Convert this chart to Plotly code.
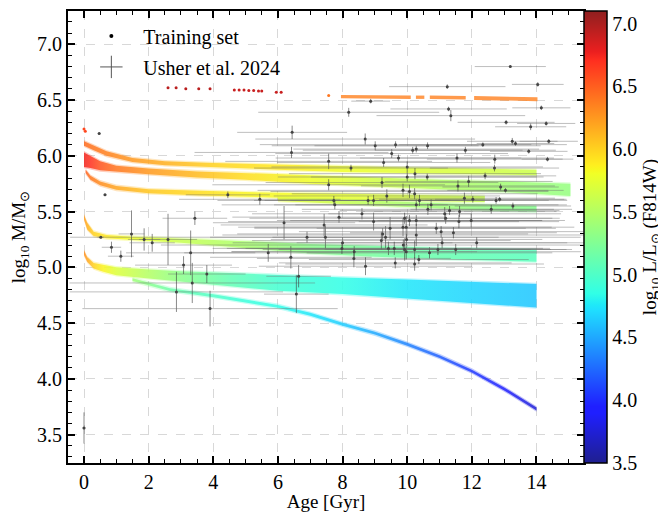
import plotly.graph_objects as go

# ---------------- data ----------------
# Training-set tracks (bands): age [Gyr], upper/lower log10 M, log10 L
A_age = [0.0, 0.3, 0.7, 1.5, 2.5, 4.0, 6.0, 8.0, 10.0, 12.0, 14.0]
A_upper = [6.13, 6.09, 6.04, 5.98, 5.95, 5.935, 5.92, 5.905, 5.895, 5.885, 5.875]
A_lower = [6.09, 6.05, 6.00, 5.945, 5.915, 5.895, 5.875, 5.855, 5.845, 5.835, 5.825]
A_logL = [6.45, 6.4, 6.35, 6.25, 6.15, 6.0, 5.9, 5.8, 5.72, 5.66, 5.62]

B_age = [0.0, 0.2, 0.5, 1.0, 2.0, 3.5, 5.0, 7.0, 9.0, 11.0, 13.0, 15.05]
B_upper = [6.03, 6.0, 5.95, 5.91, 5.885, 5.86, 5.845, 5.82, 5.80, 5.785, 5.77, 5.75]
B_lower = [5.90, 5.89, 5.87, 5.855, 5.835, 5.805, 5.785, 5.75, 5.725, 5.70, 5.675, 5.64]
B_logL = [6.75, 6.7, 6.55, 6.4, 6.25, 6.1, 5.95, 5.8, 5.65, 5.5, 5.42, 5.35]

C_age = [0.05, 0.2, 0.5, 1.0, 2.0, 3.6, 5.0, 7.0, 9.0, 11.0, 12.4]
C_upper = [5.875, 5.82, 5.77, 5.73, 5.70, 5.685, 5.675, 5.665, 5.655, 5.645, 5.64]
C_lower = [5.845, 5.785, 5.735, 5.695, 5.665, 5.645, 5.63, 5.615, 5.60, 5.59, 5.585]
C_logL = [6.5, 6.4, 6.3, 6.2, 6.05, 5.95, 5.85, 5.8, 5.72, 5.65, 5.6]

C2_age = [6.0, 8.0, 10.0, 12.0, 14.0]
C2_upper = [5.63, 5.605, 5.585, 5.565, 5.55]
C2_lower = [5.595, 5.565, 5.54, 5.515, 5.50]
C2_logL = [5.75, 5.6, 5.45, 5.35, 5.28]

D_age = [0.0, 0.1, 0.3, 0.7, 1.5, 3.0, 5.0, 7.0, 9.0, 11.0, 14.0]
D_upper = [5.47, 5.40, 5.32, 5.29, 5.275, 5.26, 5.235, 5.21, 5.19, 5.175, 5.16]
D_lower = [5.43, 5.34, 5.28, 5.26, 5.245, 5.22, 5.175, 5.125, 5.095, 5.075, 5.05]
D_logL = [6.25, 6.15, 6.0, 5.9, 5.8, 5.6, 5.45, 5.3, 5.2, 5.12, 5.05]

E_age = [0.0, 0.1, 0.3, 0.6, 1.0, 2.0, 3.0, 4.5, 6.0, 8.0, 10.0, 12.0, 14.0]
E_upper = [5.15, 5.09, 5.04, 5.02, 5.00, 4.98, 4.965, 4.95, 4.93, 4.91, 4.89, 4.87, 4.85]
E_lower = [5.11, 5.05, 4.99, 4.96, 4.93, 4.90, 4.87, 4.83, 4.79, 4.76, 4.72, 4.68, 4.64]
E_logL = [6.3, 6.2, 6.0, 5.85, 5.7, 5.5, 5.3, 5.1, 4.95, 4.85, 4.75, 4.68, 4.62]

F_age = [1.5, 2.66, 4.0, 5.0, 6.0, 7.0, 8.0, 9.0, 10.0, 11.0, 12.0, 13.0, 14.0]
F_upper = [4.903, 4.813, 4.758, 4.713, 4.663, 4.593, 4.503, 4.423, 4.323, 4.213, 4.083, 3.923, 3.743]
F_lower = [4.877, 4.787, 4.732, 4.687, 4.637, 4.567, 4.477, 4.397, 4.297, 4.187, 4.057, 3.897, 3.717]
F_logL = [5.4, 5.15, 5.0, 4.9, 4.85, 4.75, 4.65, 4.5, 4.35, 4.2, 4.05, 3.9, 3.75]

# top orange track, broken into pieces
O_age = [[7.95, 10.11], [10.27, 10.53], [10.7, 11.81], [12.07, 14.03]]
O_upper = [[6.545, 6.54], [6.54, 6.54], [6.54, 6.535], [6.535, 6.525]]
O_lower = [[6.515, 6.51], [6.51, 6.51], [6.51, 6.505], [6.50, 6.49]]
O_logL = [6.35, 6.35, 6.35, 6.35]

# sparse training points
T_age = [0.0, 0.04, 2.6, 2.85, 3.15, 3.55, 3.9, 4.65, 4.8, 4.95, 5.1, 5.25, 5.4, 5.5, 5.95, 6.1, 7.57]
T_logM = [6.24, 6.22, 6.61, 6.61, 6.60, 6.60, 6.60, 6.59, 6.59, 6.59, 6.585, 6.585, 6.58, 6.58, 6.57, 6.57, 6.54]
T_logL = [6.6, 6.6, 6.95, 6.95, 6.95, 6.95, 6.95, 6.9, 6.9, 6.9, 6.9, 6.9, 6.9, 6.9, 6.9, 6.9, 6.4]

# Usher et al. 2024 clusters
U_age = [0.0, 0.47, 0.65, 0.52, 0.85, 1.14, 1.47, 1.86, 2.11, 2.6, 3.43, 3.3, 3.08, 3.35, 3.8, 2.86, 3.9,
         4.45, 5.44, 6.44, 6.42, 7.57, 7.57, 6.64, 6.57, 6.4, 5.7, 6.19, 6.9, 7.43, 7.47, 7.76, 7.89, 8.0,
         8.35, 8.71, 8.87, 8.19, 8.7, 9.01, 9.64, 9.52, 9.73, 9.27, 8.26, 10.0, 9.22, 9.87, 9.37, 8.79,
         8.96, 8.6, 8.96, 9.2, 9.33, 9.42, 9.47, 9.63, 9.87, 9.92, 9.88, 9.98, 10.07, 10.23, 10.28, 10.38,
         10.64, 10.74, 11.16, 11.31, 11.62, 11.77, 12.03, 12.75, 12.6, 13.27, 9.92, 10.07, 10.28, 9.97,
         10.9, 11.05, 11.19, 11.6, 11.98, 10.28, 11.43, 11.08, 12.15, 11.5, 9.97, 10.23, 10.69, 10.95,
         10.23, 10.36, 13.19, 11.24, 14.04, 14.15, 11.35, 11.28, 13.06, 13.82, 14.3, 13.25, 13.35, 14.38,
         13.76, 14.34, 12.34, 11.8, 11.54, 12.71, 10.63, 10.17, 10.28, 12.7, 12.41, 11.9, 11.57, 12.89,
         13.04, 10.62, 10.0, 10.24, 12.86, 7.73, 9.24, 8.36, 9.6, 7.98]
U_age_err = [0.05, 0.05, 0.05, 0.1, 0.3, 0.4, 0.4, 0.5, 0.7, 0.9, 1.0, 2.0, 1.5, 3.8, 1.2, 3.3, 3.95,
             1.3, 2.5, 1.7, 3.0, 3.2, 3.6, 1.0, 1.0, 2.5, 2.6, 2.2, 3.0, 3.2, 7.9, 3.5, 3.3, 3.4,
             3.0, 3.3, 0.6, 2.8, 3.4, 3.2, 4.2, 3.6, 3.8, 3.3, 3.0, 4.0, 3.6, 4.5, 3.5, 3.2,
             3.7, 3.4, 4.5, 4.0, 3.5, 5.0, 4.2, 3.6, 4.6, 3.9, 7.5, 4.2, 4.3, 3.8, 4.4, 4.0,
             3.9, 4.2, 3.6, 3.4, 3.0, 2.8, 2.9, 2.2, 2.5, 1.8, 4.8, 4.1, 3.9, 5.2,
             3.7, 4.4, 3.3, 3.1, 2.9, 6.0, 3.2, 4.5, 2.8, 3.6, 5.4, 4.7, 3.8, 3.5,
             4.0, 3.4, 1.1, 1.8, 0.8, 0.9, 2.3, 1.8, 1.5, 1.1, 0.9, 1.4, 1.2, 0.9,
             1.2, 0.8, 2.6, 2.8, 3.0, 2.1, 3.5, 3.4, 3.8, 2.0, 2.2, 2.6, 3.0, 1.8,
             1.8, 3.6, 4.2, 3.9, 2.0, 3.6, 4.5, 3.8, 4.6, 4.0]
U_logM = [3.56, 6.20, 5.65, 5.27, 5.18, 5.10, 5.30, 5.25, 5.22, 5.25, 5.44, 5.13, 5.02, 4.86, 4.94, 4.78, 4.63,
          5.65, 5.61, 6.21, 6.03, 5.95, 5.74, 4.92, 4.76, 5.09, 5.13, 5.40, 5.27, 5.38, 5.27, 5.56, 5.45, 5.22,
          5.08, 5.01, 6.49, 6.39, 6.15, 6.09, 6.10, 6.02, 5.98, 5.94, 5.89, 5.81, 5.76, 5.69, 5.64, 5.60,
          5.60, 5.48, 5.41, 5.24, 5.27, 5.17, 5.35, 5.04, 5.36, 5.16, 5.20, 5.25, 5.68, 5.66, 5.56, 5.60,
          5.52, 5.56, 5.48, 5.51, 5.50, 5.62, 5.61, 5.60, 5.52, 5.55, 5.44, 5.42, 5.42, 5.36,
          5.35, 5.32, 5.44, 5.41, 5.42, 5.29, 5.31, 5.22, 5.22, 5.16, 5.14, 5.16, 5.13, 5.16,
          5.03, 5.07, 6.80, 6.62, 6.64, 6.43, 6.36, 6.42, 6.30, 6.26, 6.29, 6.13, 6.11, 6.13,
          6.04, 5.97, 6.10, 6.05, 5.98, 5.97, 6.09, 6.05, 6.06, 5.89, 5.82, 5.77, 5.73, 5.72,
          5.69, 5.81, 5.90, 5.84, 5.61, 5.60, 5.30, 5.14, 5.17, 5.17]
U_logM_err = [0.14, 0.01, 0.01, 0.01, 0.05, 0.05, 0.21, 0.10, 0.08, 0.23, 0.06, 0.20, 0.08, 0.18, 0.08, 0.18, 0.16,
              0.03, 0.05, 0.06, 0.05, 0.07, 0.05, 0.10, 0.17, 0.10, 0.08, 0.15, 0.05, 0.10, 0.10, 0.04, 0.05, 0.05,
              0.08, 0.08, 0.02, 0.04, 0.05, 0.04, 0.03, 0.04, 0.03, 0.04, 0.03, 0.04, 0.05, 0.06, 0.06, 0.04,
              0.05, 0.05, 0.08, 0.08, 0.10, 0.06, 0.10, 0.05, 0.08, 0.10, 0.05, 0.05, 0.06, 0.05, 0.05, 0.05,
              0.05, 0.05, 0.06, 0.04, 0.05, 0.05, 0.03, 0.03, 0.04, 0.03, 0.05, 0.05, 0.05, 0.10,
              0.05, 0.05, 0.05, 0.06, 0.06, 0.10, 0.05, 0.05, 0.05, 0.05, 0.07, 0.08, 0.05, 0.05,
              0.06, 0.04, 0.01, 0.02, 0.02, 0.02, 0.05, 0.02, 0.02, 0.03, 0.02, 0.03, 0.02, 0.02,
              0.02, 0.02, 0.02, 0.03, 0.04, 0.04, 0.03, 0.03, 0.03, 0.03, 0.03, 0.05, 0.05, 0.03,
              0.02, 0.03, 0.05, 0.05, 0.02, 0.04, 0.05, 0.05, 0.06, 0.05]

# colour axis
L_MIN, L_MAX = 3.5, 7.1
cbar_ticks = [3.5, 4.0, 4.5, 5.0, 5.5, 6.0, 6.5, 7.0]

# ---------------- colour map (matplotlib-like jet, slightly washed) ----------------
def _interp(t, xs, ys):
    for i in range(len(xs) - 1):
        if xs[i] <= t <= xs[i + 1]:
            f = (t - xs[i]) / (xs[i + 1] - xs[i]) if xs[i + 1] > xs[i] else 0
            return ys[i] + f * (ys[i + 1] - ys[i])
    return ys[-1]

ALPHA = 0.88
def jet(t, alpha=ALPHA):
    t = min(max(t, 0.0), 1.0)
    r = _interp(t, [0, 0.35, 0.66, 0.89, 1], [0, 0, 1, 1, 0.5])
    g = _interp(t, [0, 0.125, 0.375, 0.64, 0.91, 1], [0, 0, 1, 1, 0, 0])
    b = _interp(t, [0, 0.11, 0.34, 0.65, 1], [0.5, 1, 1, 0, 0])
    c = [int(round(255 * (alpha * v + 1 - alpha))) for v in (r, g, b)]
    return "rgb(%d,%d,%d)" % tuple(c)

def lum_color(L, alpha=ALPHA):
    return jet((L - L_MIN) / (L_MAX - L_MIN), alpha)

cs_pos = [0, 0.11, 0.125, 0.2, 0.34, 0.35, 0.375, 0.5, 0.64, 0.65, 0.66, 0.78, 0.89, 0.91, 1]
jet_scale = [[p, jet(p)] for p in cs_pos]

# ---------------- figure ----------------
fig = go.Figure()

HALO = 0.012  # soft edge of the point clouds (style)

def add_band(ages, up, lo, lums, opacity=0.85):
    a0, a1 = ages[0], ages[-1]
    scale = [[(a - a0) / (a1 - a0), lum_color(L, 0.85)] for a, L in zip(ages, lums)]
    grad = dict(type="horizontal", colorscale=scale, start=a0, stop=a1)
    # soft halo
    fig.add_trace(go.Scatter(
        x=list(ages) + list(ages[::-1]),
        y=[u + HALO for u in up] + [l - HALO for l in lo[::-1]],
        mode="lines", line=dict(width=0), fill="toself", opacity=0.3,
        fillgradient=grad, hoverinfo="skip", showlegend=False))
    # core
    fig.add_trace(go.Scatter(
        x=list(ages) + list(ages[::-1]), y=list(up) + list(lo[::-1]),
        mode="lines", line=dict(width=0), fill="toself", opacity=opacity,
        fillgradient=grad, hoverinfo="skip", showlegend=False))

for ages, up, lo, lums in [(A_age, A_upper, A_lower, A_logL), (B_age, B_upper, B_lower, B_logL),
                           (C_age, C_upper, C_lower, C_logL), (C2_age, C2_upper, C2_lower, C2_logL),
                           (D_age, D_upper, D_lower, D_logL), (E_age, E_upper, E_lower, E_logL),
                           (F_age, F_upper, F_lower, F_logL)]:
    add_band(ages, up, lo, lums)

for ages, up, lo, L in zip(O_age, O_upper, O_lower, O_logL):
    fig.add_trace(go.Scatter(
        x=list(ages) + list(ages[::-1]), y=list(up) + list(lo[::-1]),
        mode="lines", line=dict(width=0), fill="toself", fillcolor=lum_color(L), opacity=0.8,
        hoverinfo="skip", showlegend=False))

fig.add_trace(go.Scatter(
    x=T_age, y=T_logM, mode="markers",
    marker=dict(size=3, color=T_logL, coloraxis="coloraxis", line=dict(width=0)),
    showlegend=False, hoverinfo="skip"))

fig.add_trace(go.Scatter(
    x=U_age, y=U_logM, mode="markers",
    marker=dict(size=3, color="#444444"),
    error_x=dict(type="data", array=U_age_err, color="rgba(110,110,110,0.45)", thickness=1, width=0),
    error_y=dict(type="data", array=U_logM_err, color="rgba(60,60,60,0.6)", thickness=1, width=0),
    showlegend=False, hoverinfo="skip"))

# legend entries
fig.add_trace(go.Scatter(x=[None], y=[None], mode="markers", name="Training set",
                         legendgroup="a", marker=dict(size=4, color="black")))
fig.add_trace(go.Scatter(x=[None], y=[None], mode="markers", name="Usher et al. 2024",
                         legendgroup="b",
                         marker=dict(size=16, symbol="cross-thin", color="#555",
                                     line=dict(width=1, color="#555"))))

FONT = "Liberation Serif"
axis_common = dict(showline=True, linewidth=2, linecolor="black", mirror="allticks",
                   ticks="inside", ticklen=7, tickwidth=1.5, tickcolor="black",
                   showgrid=True, gridcolor="#d8d8d8", griddash="dash", gridwidth=1,
                   zeroline=False, tickfont=dict(family=FONT, size=20, color="black"))

# the page body adds an 8 px offset, so the figure is 8 px smaller and margins shifted
fig.update_layout(
    width=658, height=504,
    margin=dict(l=60, r=82, t=3, b=49, autoexpand=False),
    plot_bgcolor="white", paper_bgcolor="white",
    font=dict(family=FONT, size=20, color="black"),
    xaxis=dict(range=[-0.495, 15.47], tick0=0, dtick=2,
               minor=dict(ticks="inside", ticklen=4, tickwidth=1.2, tickcolor="black", dtick=0.5,
                          showgrid=False),
               title=dict(text="Age [Gyr]", standoff=1, font=dict(family=FONT, size=19)),
               **axis_common),
    yaxis=dict(range=[3.246, 7.298], tick0=3.5, dtick=0.5, tickformat=".1f",
               minor=dict(ticks="inside", ticklen=4, tickwidth=1.2, tickcolor="black", dtick=0.1,
                          showgrid=False),
               title=dict(text="log<sub>10</sub> M/M<sub>⊙</sub>", standoff=6,
                          font=dict(family=FONT, size=19)),
               **axis_common),
    coloraxis=dict(cmin=L_MIN, cmax=L_MAX, colorscale=jet_scale,
                   colorbar=dict(x=1.0, xanchor="left", xpad=0, y=0.5, yanchor="middle",
                                 len=1, lenmode="fraction", ypad=0, thickness=23,
                                 outlinewidth=1.5, outlinecolor="black",
                                 tickvals=cbar_ticks, ticktext=["%.1f" % v for v in cbar_ticks],
                                 ticks="", tickfont=dict(family=FONT, size=20, color="black"),
                                 title=dict(text="log<sub>10</sub> L/L<sub>⊙</sub> (F814W)",
                                            side="right", font=dict(family=FONT, size=19)))),
    legend=dict(x=0.022, y=0.988, xanchor="left", yanchor="top", bgcolor="rgba(0,0,0,0)",
                font=dict(family=FONT, size=20), traceorder="grouped", tracegroupgap=2,
                itemsizing="trace", itemwidth=54),
)

fig.write_html("out.html")
